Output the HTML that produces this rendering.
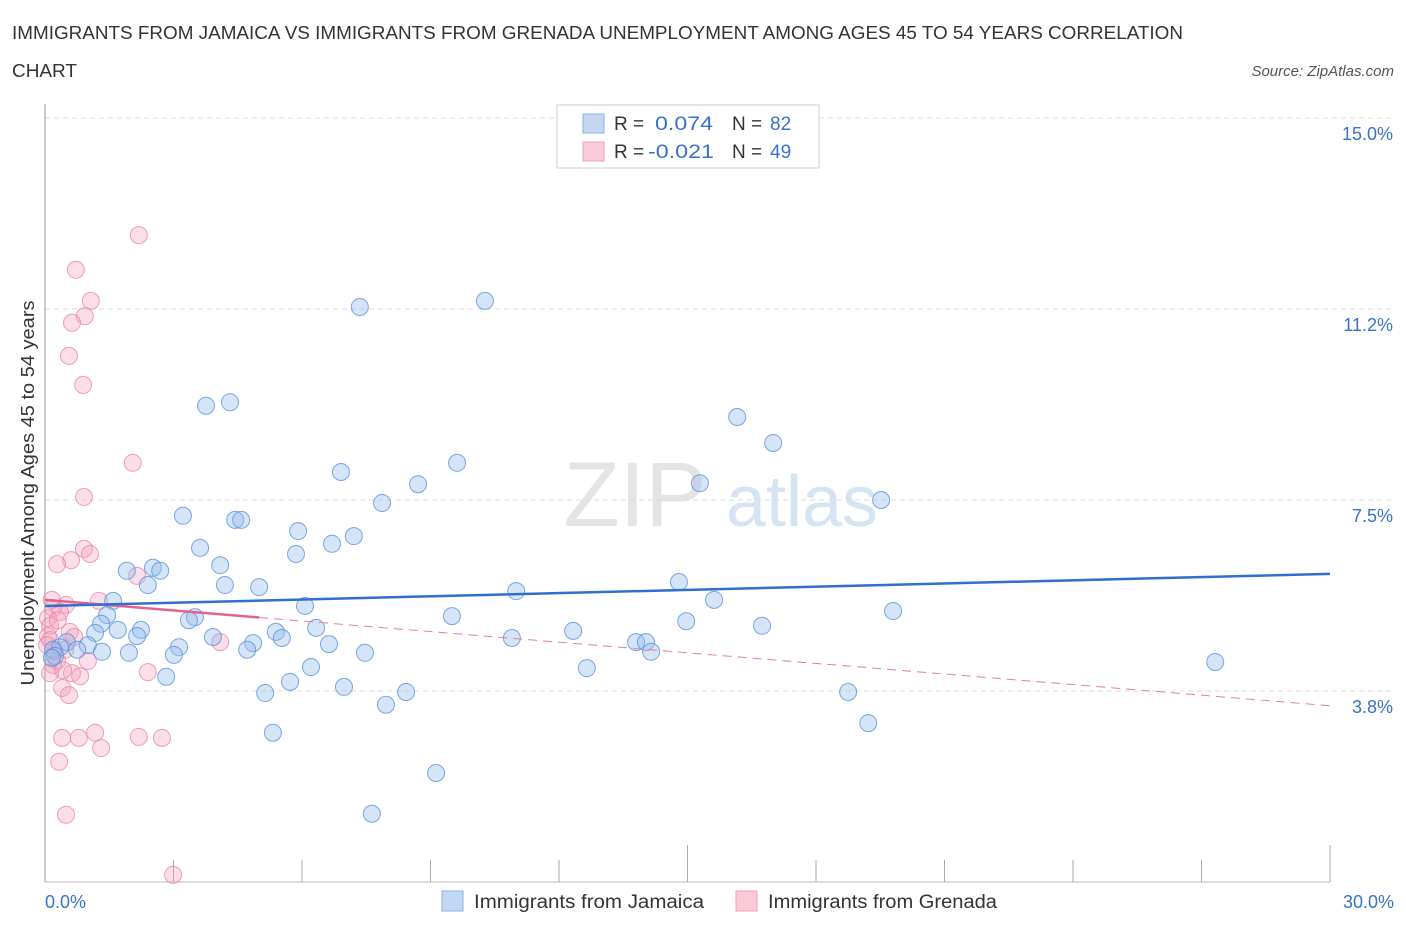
<!DOCTYPE html>
<html><head><meta charset="utf-8"><style>
body{margin:0;background:#fff;font-family:"Liberation Sans",sans-serif;}
svg text{font-family:"Liberation Sans",sans-serif;}
</style></head><body>
<svg id="chart" width="1406" height="930" xmlns="http://www.w3.org/2000/svg">
<text x="12" y="39" font-size="18" fill="#333" textLength="1171" lengthAdjust="spacingAndGlyphs">IMMIGRANTS FROM JAMAICA VS IMMIGRANTS FROM GRENADA UNEMPLOYMENT AMONG AGES 45 TO 54 YEARS CORRELATION</text>
<text x="12" y="77" font-size="18" fill="#333" textLength="65" lengthAdjust="spacingAndGlyphs">CHART</text>
<text x="1394" y="76" font-size="15" fill="#555" font-style="italic" text-anchor="end">Source: ZipAtlas.com</text>
<g>
<text x="635" y="526" font-size="92" fill="#e4e4e4" font-family="Liberation Serif" text-anchor="middle">ZIP</text>
<text x="802" y="526" font-size="72" fill="#d5e3f3" text-anchor="middle">atlas</text>
</g>
<g id="grid"></g>
<g id="axes"></g>
<g id="marks"></g>
<g>
<rect x="557" y="105" width="262" height="63" fill="#fff" stroke="#ccc"/>
<rect x="583" y="114" width="21" height="19" fill="#c3d7f3" stroke="#8ab0e6"/>
<text x="614" y="130" font-size="19" fill="#333">R =</text>
<text x="655" y="130" font-size="19" fill="#3a72c8" textLength="58" lengthAdjust="spacingAndGlyphs">0.074</text>
<text x="732" y="130" font-size="19" fill="#333">N =</text>
<text x="770" y="130" font-size="19" fill="#3a72c8">82</text>
<rect x="583" y="142" width="21" height="19" fill="#f9cad8" stroke="#eea0b8"/>
<text x="614" y="158" font-size="19" fill="#333">R =</text>
<text x="648" y="158" font-size="19" fill="#3a72c8" textLength="66" lengthAdjust="spacingAndGlyphs">-0.021</text>
<text x="732" y="158" font-size="19" fill="#333">N =</text>
<text x="770" y="158" font-size="19" fill="#3a72c8">49</text>
</g>
<g>
<rect x="442" y="891" width="21" height="20" fill="#c3d7f3" stroke="#8ab0e6"/>
<text x="474" y="908" font-size="19" fill="#333" textLength="230" lengthAdjust="spacingAndGlyphs">Immigrants from Jamaica</text>
<rect x="736" y="891" width="21" height="20" fill="#f9cad8" stroke="#eea0b8"/>
<text x="768" y="908" font-size="19" fill="#333" textLength="229" lengthAdjust="spacingAndGlyphs">Immigrants from Grenada</text>
</g>
<text transform="translate(34,493) rotate(-90)" font-size="18.5" fill="#333" text-anchor="middle" textLength="385" lengthAdjust="spacingAndGlyphs">Unemployment Among Ages 45 to 54 years</text>
</svg>
<script>
const yTicks=[15.0,11.25,7.5,3.75];
const yTickLabels=["15.0%","11.2%","7.5%","3.8%"];
const xTickLabels=["0.0%","30.0%"];
const jamX=[7.35,10.27,3.76,4.32,16.16,17.0,6.91,9.62,8.71,15.29,19.52,7.87,3.22,4.44,4.58,5.91,6.70,7.21,3.62,5.86,1.91,2.52,2.69,4.09,2.40,4.20,5.00,14.80,11.0,1.59,6.07,15.62,19.80,1.45,3.50,3.36,9.50,14.97,1.31,16.74,1.70,2.24,1.17,6.33,12.33,10.90,2.15,3.92,5.39,5.53,4.86,13.80,14.03,1.0,0.51,0.35,0.19,3.13,6.63,1.33,1.96,3.01,4.72,7.47,14.15,0.23,0.75,6.21,12.65,27.32,2.83,5.72,6.98,5.14,8.43,18.75,7.96,19.22,5.32,9.13,7.63,0.16];
const jamY=[11.29,11.41,9.35,9.42,9.13,8.62,8.05,8.23,7.81,7.83,7.50,7.44,7.19,7.11,7.11,6.89,6.64,6.79,6.56,6.44,6.11,6.17,6.11,6.22,5.83,5.83,5.79,5.89,5.71,5.52,5.42,5.54,5.32,5.24,5.20,5.14,5.22,5.12,5.07,5.03,4.95,4.95,4.89,4.99,4.93,4.79,4.83,4.81,4.91,4.79,4.69,4.71,4.71,4.65,4.71,4.61,4.56,4.61,4.67,4.52,4.50,4.46,4.56,4.50,4.52,4.44,4.56,4.22,4.20,4.32,4.03,3.93,3.83,3.71,3.73,3.73,3.48,3.12,2.93,2.14,1.34,4.40];
const grnX=[2.19,0.72,1.07,0.93,0.63,0.56,0.89,2.05,0.91,0.91,1.05,0.61,0.28,2.15,1.26,0.49,0.19,0.35,0.07,0.12,0.58,0.07,0.68,4.09,0.47,1.0,0.28,0.19,0.12,2.40,0.63,0.82,0.42,0.40,0.56,1.17,0.40,0.79,2.19,2.73,1.31,0.33,0.49,2.99,0.23,0.12,0.05,0.30,0.16];
const grnY=[12.70,12.02,11.41,11.11,10.98,10.33,9.76,8.23,7.56,6.54,6.44,6.32,6.24,6.01,5.52,5.44,5.38,5.30,5.18,5.03,4.91,4.83,4.81,4.71,4.56,4.34,4.34,4.26,4.10,4.12,4.10,4.04,4.16,3.81,3.67,2.93,2.83,2.83,2.85,2.83,2.63,2.36,1.32,0.14,4.52,4.75,4.65,5.14,5.54];
const jamTrend=[5.42,6.05];
const grnTrend=[5.54,3.46];
const grnSolidEnd=5.0;

const NS="http://www.w3.org/2000/svg";
const X0=45,X1=1330,Y0=882,Y15=118;
const sx=v=>X0+v/30*(X1-X0);
const sy=v=>Y0-v/15*(Y0-Y15);
function mk(tag,attrs,parent){const e=document.createElementNS(NS,tag);for(const k in attrs)e.setAttribute(k,attrs[k]);parent.appendChild(e);return e;}
const grid=document.getElementById('grid'),axes=document.getElementById('axes'),marks=document.getElementById('marks');
yTicks.forEach((t,i)=>{
  const l=mk('line',{x1:X0,x2:1394,y1:sy(t),y2:sy(t),stroke:'#ddd','stroke-dasharray':'5,4'},grid);
  
  
  const tx=mk('text',{x:1393,y:sy(t)+22,'font-size':18,fill:'#3a72c8','text-anchor':'end'},axes);
  tx.textContent=yTickLabels[i];
  
  
});
const ya=mk('line',{x1:X0,x2:X0,y1:104,y2:Y0,stroke:'#999'},axes);


const xa=mk('line',{x1:X0,x2:X1,y1:Y0,y2:Y0,stroke:'#bbb'},axes);


for(let i=1;i<=10;i++){
  const xv=i*3,tall=(i===5||i===10);
  const t=mk('line',{x1:sx(xv),x2:sx(xv),y1:tall?845:860,y2:Y0,stroke:'#aaa'},axes);
  
  
}
[[0,'start',45],[30,'end',1394]].forEach((d,i)=>{
  const tx=mk('text',{x:d[2],y:908,'font-size':18,fill:'#3a72c8','text-anchor':d[1]},axes);
  tx.textContent=xTickLabels[i];
  
  
});
grnX.forEach((x,i)=>{
  const c=mk('circle',{cx:sx(x),cy:sy(grnY[i]),r:8.5,fill:'rgba(244,160,188,0.35)',stroke:'rgba(232,130,165,0.75)','stroke-width':1},marks);
  
  
});
jamX.forEach((x,i)=>{
  const c=mk('circle',{cx:sx(x),cy:sy(jamY[i]),r:8.5,fill:'rgba(150,188,235,0.4)',stroke:'rgba(80,140,220,0.75)','stroke-width':1},marks);
  
  
});
const gAt=x=>grnTrend[0]+(grnTrend[1]-grnTrend[0])*x/30;
const gd=mk('line',{x1:sx(grnSolidEnd),y1:sy(gAt(grnSolidEnd)),x2:sx(30),y2:sy(grnTrend[1]),stroke:'#e57ea0','stroke-width':1,'stroke-dasharray':'9,6'},marks);


const gs=mk('line',{x1:sx(0),y1:sy(grnTrend[0]),x2:sx(grnSolidEnd),y2:sy(gAt(grnSolidEnd)),stroke:'#e5628f','stroke-width':2.5},marks);


const jt=mk('line',{x1:sx(0),y1:sy(jamTrend[0]),x2:sx(30),y2:sy(jamTrend[1]),stroke:'#2f6fd0','stroke-width':2.5},marks);


</script>
</body></html>
